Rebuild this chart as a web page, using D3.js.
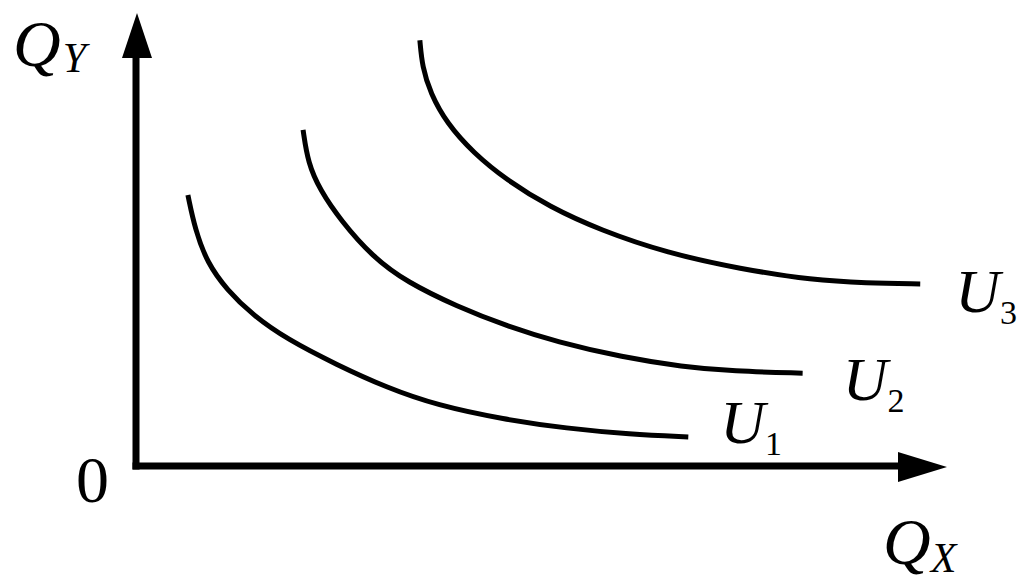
<!DOCTYPE html>
<html>
<head>
<meta charset="utf-8">
<script src="https://cdn.jsdelivr.net/npm/d3@7"></script>
<style>
  body { margin: 0; background: #fff; }
  text { font-family: "Liberation Serif", "Times New Roman", serif; fill: #000; }
</style>
</head>
<body>
<div id="viz-container"></div>
<script>
// indifference curves (x = Q_X, y = Q_Y, both 0..100)
let curveNames = ['U1', 'U2', 'U3'];
let u1X = [6.4, 7.3, 8.8, 11.2, 14.4, 18.6, 24.8, 30.9, 37.1, 45.3, 53.1, 60.9, 68.1];
let u1Y = [59.8, 52.1, 44.8, 38.9, 33.3, 28.0, 22.3, 17.3, 13.4, 10.3, 8.3, 7.0, 6.4];
let u2X = [20.6, 21.2, 22.7, 25.2, 29.2, 33.4, 39.6, 45.7, 51.9, 60.0, 67.4, 73.6, 82.2];
let u2Y = [74.2, 66.9, 60.9, 54.3, 46.1, 40.6, 35.2, 30.9, 27.4, 24.0, 21.9, 20.9, 20.5];
let u3X = [35.0, 35.3, 36.3, 38.3, 41.6, 45.7, 51.0, 57.2, 65.5, 74.5, 83.5, 90.0, 96.7];
let u3Y = [94.0, 88.1, 82.3, 75.7, 69.1, 63.1, 57.2, 52.1, 47.0, 43.5, 41.0, 40.4, 40.2];
let curveSubs = ['1', '2', '3'];

let viz = d3.select('#viz-container')
  .append('svg')
    .attr('width', 1020)
    .attr('height', 582)
;

let x = d3.scaleLinear().domain([0, 100]).range([136, 947]);
let y = d3.scaleLinear().domain([0, 100]).range([466, 13]);

function zip(xs, ys){
  return xs.map(function(d, i){ return [d, ys[i]]; });
}

let curves = [zip(u1X, u1Y), zip(u2X, u2Y), zip(u3X, u3Y)];

// axes
viz.append('line')
  .attr('x1', x(0)).attr('y1', y(0) + 3.5)
  .attr('x2', x(0)).attr('y2', y(0) - 415)
  .attr('stroke', 'black').attr('stroke-width', 7);
viz.append('line')
  .attr('x1', x(0) - 3.5).attr('y1', y(0))
  .attr('x2', x(100) - 40).attr('y2', y(0))
  .attr('stroke', 'black').attr('stroke-width', 7);

// arrow heads
viz.append('path')
  .attr('d', 'M' + (x(0) + 1) + ',' + y(100) + ' L' + (x(0) - 14) + ',' + (y(100) + 45) +
             ' L' + (x(0) + 16) + ',' + (y(100) + 45) + ' Z')
  .attr('fill', 'black');
viz.append('path')
  .attr('d', 'M' + x(100) + ',' + (y(0) + 1) + ' L' + (x(100) - 49) + ',' + (y(0) - 14) +
             ' L' + (x(100) - 49) + ',' + (y(0) + 16) + ' Z')
  .attr('fill', 'black');

let line = d3.line()
  .x(function(d){ return x(d[0]); })
  .y(function(d){ return y(d[1]); })
  .curve(d3.curveBasis);

viz.selectAll('path.curve').data(curves).enter()
  .append('path')
    .attr('class', 'curve')
    .attr('d', line)
    .attr('fill', 'none')
    .attr('stroke', 'black')
    .attr('stroke-width', 5)
;

// curve labels, placed off the right end of each curve
let labelDx = [32, 40, 35];
let labelDy = [6, 27, 28];

let labels = viz.selectAll('text.ulabel').data(curveNames).enter()
  .append('text')
    .attr('class', 'ulabel')
    .attr('x', function(d, i){ let p = curves[i][curves[i].length - 1]; return x(p[0]) + labelDx[i]; })
    .attr('y', function(d, i){ let p = curves[i][curves[i].length - 1]; return y(p[1]) + labelDy[i]; })
    .attr('font-size', 62)
;
labels.append('tspan')
  .attr('font-style', 'italic')
  .text('U');
labels.append('tspan')
  .attr('font-size', 34)
  .attr('dy', 12)
  .text(function(d, i){ return curveSubs[i]; });

// axis labels
let qy = viz.append('text').attr('x', 13).attr('y', 66).attr('font-size', 66).attr('font-style', 'italic');
qy.append('tspan').text('Q');
qy.append('tspan').attr('font-size', 42).attr('dy', 6).attr('dx', 2).text('Y');

let qx = viz.append('text').attr('x', 883).attr('y', 564).attr('font-size', 66).attr('font-style', 'italic');
qx.append('tspan').text('Q');
qx.append('tspan').attr('font-size', 42).attr('dy', 8).text('X');

viz.append('text')
  .attr('x', 76).attr('y', 502)
  .attr('font-size', 66)
  .text('0');
</script>
</body>
</html>
